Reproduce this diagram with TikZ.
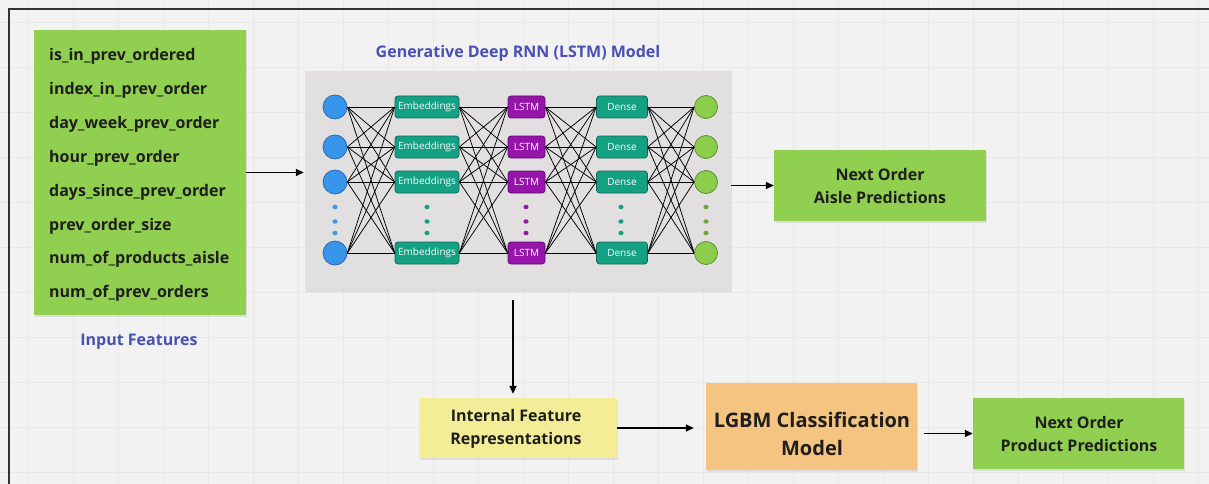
\documentclass[tikz,border=0pt]{standalone}
\usepackage{fontspec}
\setmainfont{Open Sans}
\usetikzlibrary{arrows.meta,shadows,calc}
\definecolor{bgc}{RGB}{242,242,242}
\definecolor{gridc}{RGB}{232,232,232}
\definecolor{framec}{RGB}{50,50,50}
\definecolor{boxgreen}{RGB}{145,207,80}
\definecolor{titleblue}{RGB}{72,80,180}
\definecolor{netgray}{RGB}{225,223,223}
\definecolor{inblue}{RGB}{55,150,235}
\definecolor{inblueD}{RGB}{40,100,170}
\definecolor{tealc}{RGB}{20,160,130}
\definecolor{tealD}{RGB}{12,105,85}
\definecolor{purp}{RGB}{150,20,170}
\definecolor{purpD}{RGB}{95,10,115}
\definecolor{outgreen}{RGB}{140,205,75}
\definecolor{outgreenD}{RGB}{85,135,40}
\definecolor{yel}{RGB}{242,237,150}
\definecolor{orng}{RGB}{245,196,128}
\definecolor{txt}{RGB}{30,30,30}
\begin{document}
\begin{tikzpicture}[x=1pt,y=-1pt,
  shad/.style={drop shadow={opacity=0.18,shadow xshift=1pt,shadow yshift=-1.5pt}},
  bigbox/.style={shad,inner sep=0,align=center,text=txt},
  boxtext/.style={inner sep=0,align=center,text=txt,font=\fontsize{16}{23}\selectfont\bfseries},
  lbl/.style={text=titleblue,font=\fontsize{16}{18}\selectfont\bfseries,inner sep=0},
  incirc/.style={circle,fill=inblue,draw=inblueD,line width=0.7pt,minimum size=24pt,inner sep=0},
  outcirc/.style={circle,fill=outgreen,draw=outgreenD,line width=0.7pt,minimum size=23pt,inner sep=0},
  layerbox/.style={rounded corners=3pt,line width=0.7pt,minimum height=22pt,inner sep=0,text=white,font=\fontsize{10}{11}\selectfont},
  embbox/.style={layerbox,fill=tealc,draw=tealD,minimum width=64pt},
  lstmbox/.style={layerbox,fill=purp,draw=purpD,minimum width=37pt},
  densebox/.style={layerbox,fill=tealc,draw=tealD,minimum width=51pt},
  conn/.style={black,line width=0.75pt},
  arr/.style={black,line width=1.6pt,-{Triangle[length=8pt,width=7pt]}}]
\useasboundingbox (0,0) rectangle (1209,484);
\fill[bgc] (0,0) rectangle (1209,484);
\foreach \x in {28,73,...,1209} \draw[gridc,line width=0.6pt] (\x,0) -- (\x,484);
\foreach \y in {22,67,...,484} \draw[gridc,line width=0.6pt] (0,\y) -- (1209,\y);
\draw[framec,line width=2.5pt] (9,484) -- (9,9) -- (1209,9);

% input features
\node[bigbox,fill=boxgreen,minimum width=212pt,minimum height=285pt] (inbox) at (140,172.5) {};
\node[anchor=west,align=left,inner sep=0,text=txt,font=\fontsize{16}{33.9}\selectfont\bfseries] (feats) at (49,175)
 {is\_in\_prev\_ordered\\index\_in\_prev\_order\\day\_week\_prev\_order\\hour\_prev\_order\\days\_since\_prev\_order\\prev\_order\_size\\num\_of\_products\_aisle\\num\_of\_prev\_orders};
\node[lbl] (inlbl) at (139,342) {Input Features};

% network
\node[lbl] (title) at (518,53) {Generative Deep RNN (LSTM) Model};
\node[shad,fill=netgray,minimum width=426pt,minimum height=219pt,inner sep=0] (net) at (518,180.5) {};
\foreach \r/\y in {1/107,2/147,3/182,4/253}{
  \node[incirc] (in\r) at (335,\y) {};
  \node[embbox] (emb\r) at (427,\y) {Embeddings};
  \node[lstmbox] (lstm\r) at (526.5,\y) {LSTM};
  \node[densebox] (dense\r) at (622,\y) {Dense};
  \node[outcirc] (out\r) at (706,\y) {};
}
\foreach \i in {1,...,4}{
  \foreach \j in {1,...,4}{
    \draw[conn] (in\i.east) -- (emb\j.west);
    \draw[conn] (emb\i.east) -- (lstm\j.west);
    \draw[conn] (lstm\i.east) -- (dense\j.west);
    \draw[conn] (dense\i.east) -- (out\j.west);
  }
}
\foreach \y in {207,221.5,233}{
  \fill[inblue] (335,\y) ellipse (2.6pt and 2.2pt);
  \fill[tealc] (427,\y) ellipse (2.6pt and 2.2pt);
  \fill[purp] (526,\y) ellipse (2.6pt and 2.2pt);
  \fill[tealc] (621,\y) ellipse (2.6pt and 2.2pt);
  \fill[outgreen!80!black] (706,\y) ellipse (2.6pt and 2.2pt);
}

% outputs
\node[bigbox,fill=boxgreen,minimum width=212pt,minimum height=71pt] (aisle) at (880,185.5) {};
\node[boxtext] (aisletxt) at (880,186) {Next Order\\Aisle Predictions};
\node[bigbox,fill=yel,minimum width=198pt,minimum height=60pt] (ifr) at (518,428) {};
\node[boxtext] (ifrtxt) at (516,428.5) {Internal Feature\\Representations};
\node[bigbox,fill=orng,minimum width=211pt,minimum height=87pt] (lgbm) at (811.5,426.5) {};
\node[boxtext,font=\fontsize{20}{28}\selectfont\bfseries] (lgbmtxt) at (812,434) {LGBM Classification\\Model};
\node[bigbox,fill=boxgreen,minimum width=211pt,minimum height=71pt] (prod) at (1078.5,433.5) {};
\node[boxtext] (prodtxt) at (1079,434) {Next Order\\Product Predictions};

% arrows
\draw[arr,shorten >=1pt] (inbox.east) -- (inbox.east -| net.west);
\draw[arr] (net.east |- aisle.west) -- (aisle.west);
\draw[arr,shorten <=10pt,shorten >=4pt] ([xshift=-5pt]net.south) -- ([xshift=-5pt]ifr.north);
\draw[arr,shorten >=12pt] (ifr.east) -- (ifr.east -| lgbm.west);
\draw[arr,shorten <=7pt] (lgbm.east |- prod.west) -- (prod.west);
\end{tikzpicture}
\end{document}
